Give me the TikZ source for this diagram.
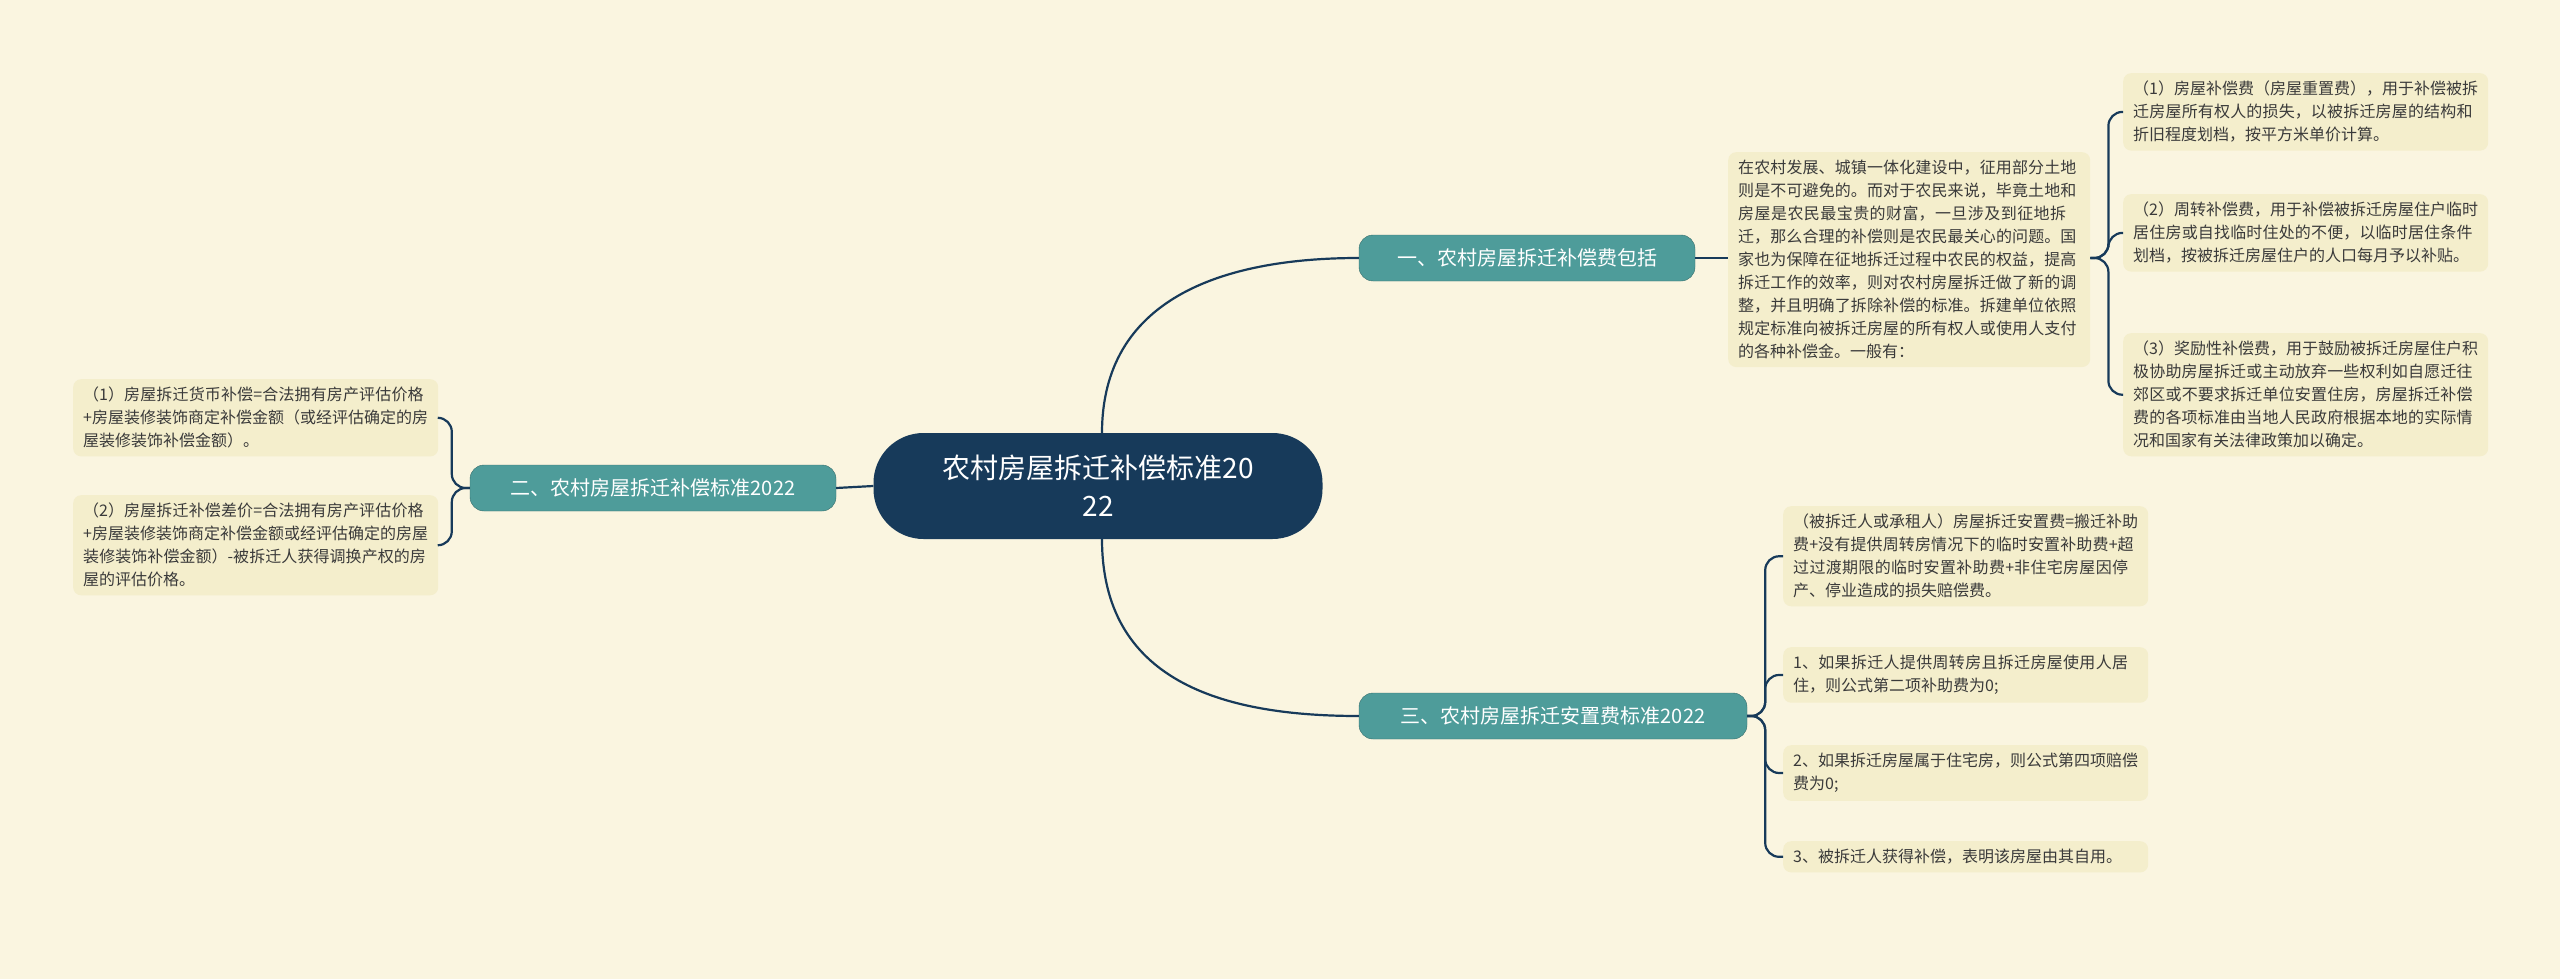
\documentclass[tikz,border=0pt]{standalone}
\usepackage{fontspec}
\setmainfont{Noto Sans CJK SC}
\XeTeXlinebreaklocale "zh"
\XeTeXlinebreakskip=0pt plus 1pt
\definecolor{bg}{HTML}{FAF5E0}
\definecolor{boxc}{HTML}{F4EECC}
\definecolor{dark}{HTML}{173A5A}
\definecolor{teal}{HTML}{4E9C9A}
\definecolor{txt}{HTML}{3A3A3A}
\begin{document}
\begin{tikzpicture}[x=1pt,y=-1pt,
  leaf/.style={fill=boxc,rounded corners=8pt,text width=#1,align=left,font=\fontsize{16}{23}\selectfont,text=txt,inner xsep=10pt,inner ysep=8pt,anchor=north west},
  leaf/.default=345pt,
  branch/.style={fill=teal,draw=teal!70!black,rounded corners=14pt,text=white,font=\fontsize{20}{24}\selectfont,minimum height=46pt,inner xsep=16pt},
  conn/.style={draw=dark,line width=2.2pt},
  brk/.style={conn,rounded corners=14pt}]
\useasboundingbox[fill=bg] (0,0) rectangle (2560,979);
\node[fill=dark,rounded corners=50pt,minimum width=449pt,minimum height=106pt,text=white,align=center,font=\fontsize{28}{38}\selectfont] (c) at (1098,486) {农村房屋拆迁补偿标准20\\22};
\node[branch,minimum width=336pt] (b1) at (1527,258) {一、农村房屋拆迁补偿费包括};
\node[branch,minimum width=366pt] (b2) at (653,488) {二、农村房屋拆迁补偿标准2022};
\node[branch,minimum width=388pt] (b3) at (1553,716) {三、农村房屋拆迁安置费标准2022};
\node[leaf=342pt] (p) at (1728,152) {在农村发展、城镇一体化建设中，征用部分土地则是不可避免的。而对于农民来说，毕竟土地和房屋是农民最宝贵的财富，一旦涉及到征地拆迁，那么合理的补偿则是农民最关心的问题。国家也为保障在征地拆迁过程中农民的权益，提高拆迁工作的效率，则对农村房屋拆迁做了新的调整，并且明确了拆除补偿的标准。拆建单位依照规定标准向被拆迁房屋的所有权人或使用人支付的各种补偿金。一般有：};
\node[leaf] (r1) at (2123,73) {（1）房屋补偿费（房屋重置费），用于补偿被拆迁房屋所有权人的损失，以被拆迁房屋的结构和折旧程度划档，按平方米单价计算。};
\node[leaf] (r2) at (2123,194) {（2）周转补偿费，用于补偿被拆迁房屋住户临时居住房或自找临时住处的不便，以临时居住条件划档，按被拆迁房屋住户的人口每月予以补贴。};
\node[leaf] (r3) at (2123,333) {（3）奖励性补偿费，用于鼓励被拆迁房屋住户积极协助房屋拆迁或主动放弃一些权利如自愿迁往郊区或不要求拆迁单位安置住房，房屋拆迁补偿费的各项标准由当地人民政府根据本地的实际情况和国家有关法律政策加以确定。};
\node[leaf] (l1) at (73,379) {（1）房屋拆迁货币补偿=合法拥有房产评估价格+房屋装修装饰商定补偿金额（或经评估确定的房屋装修装饰补偿金额）。};
\node[leaf] (l2) at (73,495) {（2）房屋拆迁补偿差价=合法拥有房产评估价格+房屋装修装饰商定补偿金额或经评估确定的房屋装修装饰补偿金额）-被拆迁人获得调换产权的房屋的评估价格。};
\node[leaf] (s1) at (1783,506) {（被拆迁人或承租人）房屋拆迁安置费=搬迁补助费+没有提供周转房情况下的临时安置补助费+超过过渡期限的临时安置补助费+非住宅房屋因停产、停业造成的损失赔偿费。};
\node[leaf] (s2) at (1783,647) {1、如果拆迁人提供周转房且拆迁房屋使用人居住，则公式第二项补助费为0;};
\node[leaf] (s3) at (1783,745) {2、如果拆迁房屋属于住宅房，则公式第四项赔偿费为0;};
\node[leaf] (s4) at (1783,841) {3、被拆迁人获得补偿，表明该房屋由其自用。};
\path[conn] (1102,433) .. controls (1102,300) and (1220,258) .. (b1.west);
\path[conn] (1102,539) .. controls (1102,680) and (1220,716) .. (b3.west);
\path[conn] (c.west) -- (b2.east);
\path[conn] (b1.east) -- (p.west|-b1.east);
\foreach \t in {r1,r2,r3} \path[brk] (p.east|-b1.east) -- ++(18,0) |- (\t.west);
\foreach \t in {s1,s2,s3,s4} \path[brk] (b3.east) -- ++(18,0) |- (\t.west);
\foreach \t in {l1,l2} \path[brk] (b2.west) -- ++(-18,0) |- (\t.east);
\end{tikzpicture}
\end{document}
